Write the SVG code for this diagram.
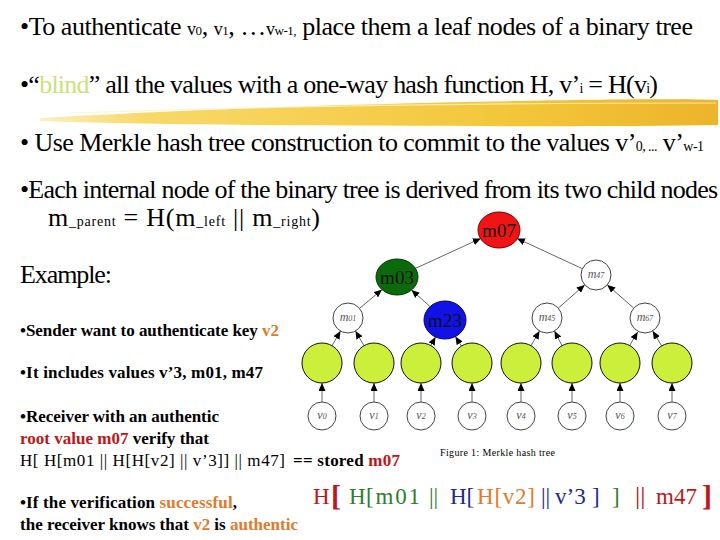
<svg xmlns="http://www.w3.org/2000/svg" width="720" height="540" viewBox="0 0 720 540">
<defs>
<style>
.t{font-family:"Liberation Serif","Times New Roman",serif;fill:#000}
.big{font-size:26px}
.sm{font-size:17px}
.b{font-weight:bold}
.red{fill:#c0161a}
.org{fill:#e07a2c}
.grn{fill:#2f7d2f}
.blu{fill:#1c2a8c}
.blind{fill:#c8e27a}
.lbl{font-family:"Liberation Serif","Times New Roman",serif;font-style:italic;fill:#555;font-size:12px}
.lbls{font-size:8px}
.node{font-family:"Liberation Serif","Times New Roman",serif;font-size:19px;fill:#111}
.leaf{fill:#cbef3a;stroke:#111;stroke-width:1}
.wn{fill:#fff;stroke:#444;stroke-width:1}
.edge{stroke:#666;stroke-width:1;fill:none;marker-end:url(#ah)}
</style>
<marker id="ah" markerUnits="userSpaceOnUse" markerWidth="8" markerHeight="7" refX="8" refY="3.5" orient="auto">
<path d="M0,0 L8,3.5 L0,7 z" fill="#000"/>
</marker>
<linearGradient id="brush" x1="0" y1="0" x2="1" y2="0">
<stop offset="0" stop-color="#fcefc0"/>
<stop offset="0.15" stop-color="#f8d968"/>
<stop offset="0.7" stop-color="#f3c63a"/>
<stop offset="1" stop-color="#ecb42a"/>
</linearGradient>
</defs>
<rect width="720" height="540" fill="#fff"/>

<g id="brushstroke">
<path d="M40 118 C 160 111, 330 104, 520 101 C 620 99, 690 99, 718 100 L 718 125 C 600 127, 420 126, 260 125 C 160 124, 90 123, 40 121 Z" fill="url(#brush)"/>
<path d="M70 113 C 250 107, 480 103, 716 103" stroke="#fdf3cc" stroke-width="1.2" fill="none" opacity="0.8"/>
<path d="M150 121 C 350 118, 550 116, 716 118" stroke="#faе6a0" stroke-width="1" fill="none" opacity="0.7"/>
</g>

<g id="text-top">
<text class="t big" x="20" y="35" textLength="673">•To authenticate <tspan font-size="18">v</tspan><tspan font-size="13">0</tspan>, <tspan font-size="18">v</tspan><tspan font-size="13">1</tspan>, …<tspan font-size="18">v</tspan><tspan font-size="13">w-1,</tspan> place them a leaf nodes of a binary tree</text>
<text class="t big" x="20" y="93" textLength="638">•“<tspan class="blind">blind</tspan>” all the values with a one-way hash function H, v’<tspan font-size="14">i</tspan> = H(v<tspan font-size="14">i</tspan>)</text>
<text class="t big" x="20" y="151" textLength="684">• Use Merkle hash tree construction to commit to the values v’<tspan font-size="14">0, ...</tspan> v’<tspan font-size="14">w-1</tspan></text>
<text class="t big" x="20" y="198" textLength="698">•Each internal node of the binary tree is derived from its two child nodes</text>
<text class="t big" x="48" y="226" textLength="272">m<tspan font-size="14">_parent</tspan> = H(m<tspan font-size="14">_left</tspan> || m<tspan font-size="14">_right</tspan>)</text>
<text class="t big" x="20" y="283" textLength="92">Example:</text>
</g>

<g id="text-example">
<text class="t sm b" x="20" y="336" textLength="259">•Sender want to authenticate key <tspan class="org">v2</tspan></text>
<text class="t sm b" x="20" y="378" textLength="243">•It includes values v’3, m01, m47</text>
<text class="t sm b" x="20" y="422" textLength="199">•Receiver with an authentic</text>
<text class="t sm b" x="20" y="444" textLength="189"><tspan class="red">root value m07</tspan> verify that</text>
<text class="t sm" x="20" y="466" textLength="265">H[ H[m01 ||  H[H[v2] || v’3]] || m47]</text>
<text class="t sm b" x="293" y="466" textLength="107">== stored <tspan class="red">m07</tspan></text>
<text class="t sm b" x="20" y="508" textLength="217">•If the verification <tspan class="org">successful</tspan>,</text>
<text class="t sm b" x="20" y="530" textLength="278">the receiver knows that <tspan class="org">v2</tspan> is <tspan class="org">authentic</tspan></text>
</g>

<g id="formula" class="t" font-size="23">
<text class="red" x="313" y="504">H</text>
<text class="red" x="331" y="506" font-size="30" font-weight="bold">[</text>
<text class="grn" x="349" y="504">H</text>
<text class="grn" x="366" y="504" textLength="54">[m01</text>
<text class="grn" x="429" y="504">||</text>
<text class="blu" x="450" y="504">H[</text>
<text class="org" x="477" y="504" textLength="58">H[v2]</text>
<text class="blu" x="541" y="504">||</text>
<text class="blu" x="555" y="504">v’3</text>
<text class="blu" x="592" y="504">]</text>
<text class="grn" x="612" y="504">]</text>
<text class="red" x="635" y="504" font-size="26">||</text>
<text class="red" x="656" y="504">m47</text>
<text class="red" x="702" y="506" font-size="30" font-weight="bold">]</text>
</g>

<g id="connectors">
<line class="edge" x1="415" y1="268.6" x2="480.8" y2="238.4"/>
<line class="edge" x1="582.4" y1="268.7" x2="517" y2="238.4"/>
<line class="edge" x1="359.5" y1="308.4" x2="382" y2="289.6"/>
<line class="edge" x1="430.1" y1="306.6" x2="411.5" y2="290"/>
<line class="edge" x1="558.3" y1="308.1" x2="584.7" y2="284.9"/>
<line class="edge" x1="633.7" y1="308.1" x2="607.3" y2="284.9"/>
<line class="edge" x1="332" y1="345.7" x2="340.5" y2="331"/>
<line class="edge" x1="364" y1="345.7" x2="355.5" y2="331"/>
<line class="edge" x1="430.8" y1="345.5" x2="435.5" y2="337"/>
<line class="edge" x1="461.4" y1="346.1" x2="455.4" y2="336.5"/>
<line class="edge" x1="531" y1="345.7" x2="539.5" y2="331"/>
<line class="edge" x1="562" y1="345.7" x2="554.5" y2="331"/>
<line class="edge" x1="629.7" y1="345.5" x2="637.7" y2="331.9"/>
<line class="edge" x1="661.7" y1="345.9" x2="652.7" y2="331.1"/>
<line class="edge" x1="322" y1="402" x2="322" y2="383"/>
<line class="edge" x1="374" y1="402" x2="374" y2="383"/>
<line class="edge" x1="421" y1="402" x2="421" y2="383"/>
<line class="edge" x1="472" y1="402" x2="472" y2="383"/>
<line class="edge" x1="521" y1="402" x2="521" y2="383"/>
<line class="edge" x1="572" y1="402" x2="572" y2="383"/>
<line class="edge" x1="620" y1="402" x2="620" y2="383"/>
<line class="edge" x1="672" y1="402" x2="672" y2="383"/>
</g>

<g id="m07"><ellipse cx="499" cy="230" rx="21" ry="18" fill="#f01414" stroke="#7a0000"/><text class="node" x="499" y="237" text-anchor="middle">m07</text></g>
<g id="m03"><ellipse cx="397" cy="277" rx="21" ry="18" fill="#0b6b0b" stroke="#033803"/><text class="node" x="397" y="284" text-anchor="middle">m03</text></g>
<g id="m23"><ellipse cx="445" cy="320" rx="21" ry="19" fill="#1212e6" stroke="#00006a"/><text class="node" x="445" y="327" text-anchor="middle">m23</text></g>
<g id="m47"><circle class="wn" cx="596" cy="275" r="15"/><text class="lbl" x="596" y="278" text-anchor="middle">m<tspan class="lbls">47</tspan></text></g>
<g id="m01"><circle class="wn" cx="348" cy="318" r="15"/><text class="lbl" x="348" y="321" text-anchor="middle">m<tspan class="lbls">01</tspan></text></g>
<g id="m45"><circle class="wn" cx="547" cy="318" r="15"/><text class="lbl" x="547" y="321" text-anchor="middle">m<tspan class="lbls">45</tspan></text></g>
<g id="m67"><circle class="wn" cx="645" cy="318" r="15"/><text class="lbl" x="645" y="321" text-anchor="middle">m<tspan class="lbls">67</tspan></text></g>

<g id="leaf0"><circle class="leaf" cx="322" cy="363" r="20"/></g>
<g id="leaf1"><circle class="leaf" cx="374" cy="363" r="20"/></g>
<g id="leaf2"><circle class="leaf" cx="421" cy="363" r="20"/></g>
<g id="leaf3"><circle class="leaf" cx="472" cy="363" r="20"/></g>
<g id="leaf4"><circle class="leaf" cx="521" cy="363" r="20"/></g>
<g id="leaf5"><circle class="leaf" cx="572" cy="363" r="20"/></g>
<g id="leaf6"><circle class="leaf" cx="620" cy="363" r="20"/></g>
<g id="leaf7"><circle class="leaf" cx="672" cy="363" r="20"/></g>

<g id="v0"><circle class="wn" cx="322" cy="416" r="14"/><text class="lbl" x="322" y="419" text-anchor="middle">v<tspan class="lbls">0</tspan></text></g>
<g id="v1"><circle class="wn" cx="374" cy="416" r="14"/><text class="lbl" x="374" y="419" text-anchor="middle">v<tspan class="lbls">1</tspan></text></g>
<g id="v2"><circle class="wn" cx="421" cy="416" r="14"/><text class="lbl" x="421" y="419" text-anchor="middle">v<tspan class="lbls">2</tspan></text></g>
<g id="v3"><circle class="wn" cx="472" cy="416" r="14"/><text class="lbl" x="472" y="419" text-anchor="middle">v<tspan class="lbls">3</tspan></text></g>
<g id="v4"><circle class="wn" cx="521" cy="416" r="14"/><text class="lbl" x="521" y="419" text-anchor="middle">v<tspan class="lbls">4</tspan></text></g>
<g id="v5"><circle class="wn" cx="572" cy="416" r="14"/><text class="lbl" x="572" y="419" text-anchor="middle">v<tspan class="lbls">5</tspan></text></g>
<g id="v6"><circle class="wn" cx="620" cy="416" r="14"/><text class="lbl" x="620" y="419" text-anchor="middle">v<tspan class="lbls">6</tspan></text></g>
<g id="v7"><circle class="wn" cx="672" cy="416" r="14"/><text class="lbl" x="672" y="419" text-anchor="middle">v<tspan class="lbls">7</tspan></text></g>

<g id="caption"><text class="t" x="440" y="456" font-size="10" fill="#333" textLength="115">Figure 1: Merkle hash tree</text></g>
</svg>
